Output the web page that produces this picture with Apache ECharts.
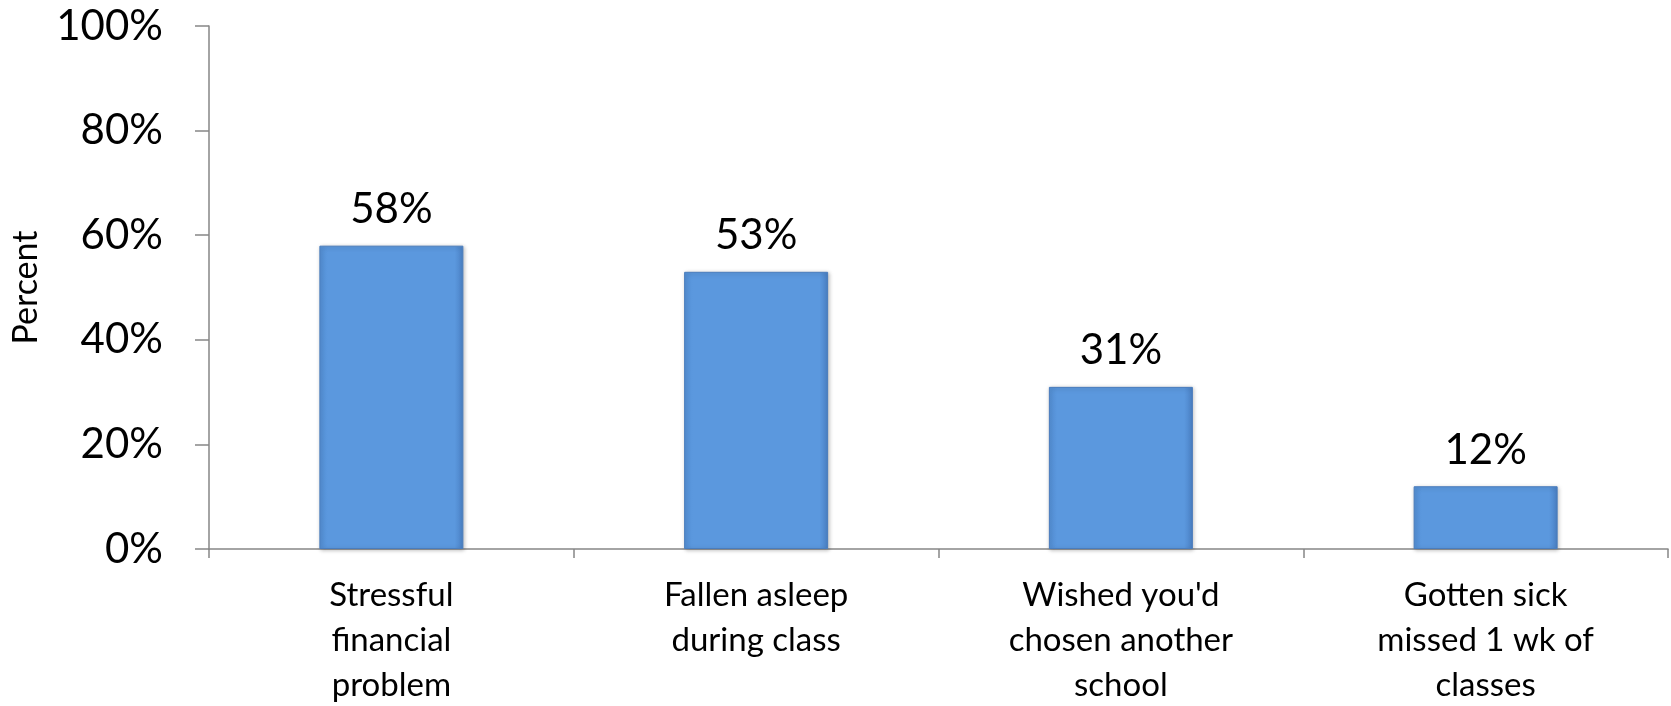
<!DOCTYPE html>
<html>
<head>
<meta charset="utf-8">
<script src="https://cdn.jsdelivr.net/npm/echarts@6/dist/echarts.min.js"></script>
<style>
  html, body { margin: 0; padding: 0; background: #fff; }
  #chart { width: 1671px; height: 706px; }
</style>
</head>
<body>
<div id="chart"></div>
<script>
  // categories and values
  const categories = [
    'Stressful\nfinancial\nproblem',
    'Fallen asleep\nduring class',
    "Wished you'd\nchosen another\nschool",
    'Gotten sick\nmissed 1 wk of\nclasses',
  ];
  const percents = [58, 53, 31, 12];
  const yTicks = [0, 20, 40, 60, 80, 100];

  const font = 'Lato, "Noto Sans", sans-serif';
  const axisGrey = '#868686';

  const chart = echarts.init(document.getElementById('chart'));

  const option = {
    animation: false,
    grid: {
      left: 209,
      right: 3,
      top: 26,
      bottom: 157,
      outerBoundsMode: 'none',
    },
    xAxis: {
      type: 'category',
      data: categories,
      axisLine: { lineStyle: { color: axisGrey, width: 1.5 } },
      axisTick: { show: true, length: 9, lineStyle: { color: axisGrey, width: 1.5 } },
      axisLabel: {
        color: '#000',
        fontFamily: font,
        fontSize: 33,
        lineHeight: 45,
        margin: 24,
        interval: 0,
      },
    },
    yAxis: {
      type: 'value',
      min: yTicks[0],
      max: yTicks[yTicks.length - 1],
      interval: 20,
      name: 'Percent',
      nameLocation: 'middle',
      nameGap: 166,
      nameTextStyle: { color: '#000', fontFamily: font, fontSize: 34 },
      axisLine: { show: true, lineStyle: { color: axisGrey, width: 1.5 } },
      axisTick: { show: true, length: 14, lineStyle: { color: axisGrey, width: 1.5 } },
      splitLine: { show: false },
      axisLabel: {
        color: '#000',
        fontFamily: font,
        fontSize: 42,
        margin: 46,
        formatter: '{value}%',
      },
    },
    series: [
      {
        type: 'bar',
        data: percents,
        barWidth: 144,
        itemStyle: {
          color: new echarts.graphic.LinearGradient(0, 0, 1, 0, [
            { offset: 0, color: '#5490d6' },
            { offset: 0.06, color: '#5b98de' },
            { offset: 0.94, color: '#5b98de' },
            { offset: 1, color: '#4a80c4' },
          ]),
          borderColor: '#4a7dbd',
          borderWidth: 1,
          shadowColor: 'rgba(0,0,0,0.25)',
          shadowBlur: 4,
          shadowOffsetX: 1,
          shadowOffsetY: 1,
        },
        label: {
          show: true,
          position: 'top',
          distance: 15,
          color: '#000',
          fontFamily: font,
          fontSize: 42,
          formatter: '{c}%',
        },
      },
    ],
  };

  chart.setOption(option);
</script>
</body>
</html>
